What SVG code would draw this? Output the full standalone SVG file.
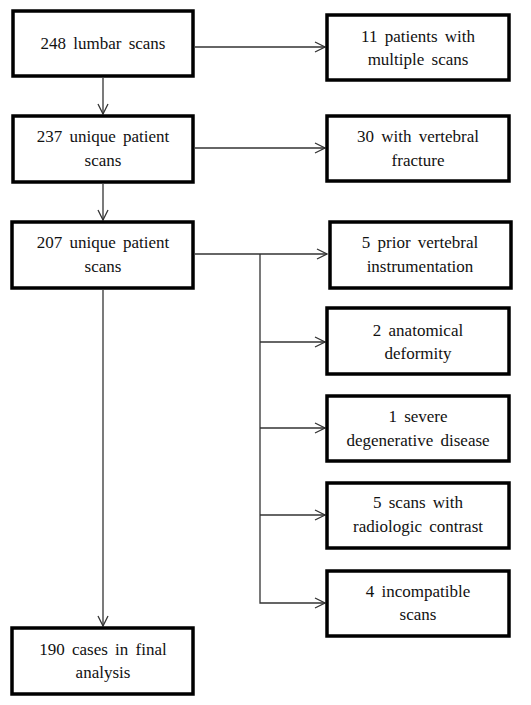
<svg xmlns="http://www.w3.org/2000/svg" width="531" height="705" viewBox="0 0 531 705">
<style>
.box{fill:#fff;stroke:#000;stroke-width:3.5}
.t{font-family:'Liberation Serif','Times New Roman',serif;font-size:17px;fill:#111;text-anchor:middle;word-spacing:3px}
.c{fill:none;stroke:#333;stroke-width:1.3}
</style>
<defs>
<marker id="ah" viewBox="0 0 12 12" refX="11" refY="6" markerWidth="12" markerHeight="12" markerUnits="userSpaceOnUse" orient="auto">
<polyline points="1,1 11,6 1,11" fill="none" stroke="#333" stroke-width="1.3"/>
</marker>
</defs>
<rect width="531" height="705" fill="#fff"/>
<g id="connectors">
<line class="c" x1="195" y1="47" x2="325" y2="47" marker-end="url(#ah)"/>
<line class="c" x1="103" y1="78" x2="103" y2="114" marker-end="url(#ah)"/>
<line class="c" x1="195" y1="148" x2="325" y2="148" marker-end="url(#ah)"/>
<line class="c" x1="103" y1="184" x2="103" y2="220" marker-end="url(#ah)"/>
<line class="c" x1="195" y1="254" x2="327" y2="254" marker-end="url(#ah)"/>
<polyline class="c" points="260,254 260,603 325,603" marker-end="url(#ah)"/>
<line class="c" x1="260" y1="342" x2="325" y2="342" marker-end="url(#ah)"/>
<line class="c" x1="260" y1="428" x2="325" y2="428" marker-end="url(#ah)"/>
<line class="c" x1="260" y1="515" x2="325" y2="515" marker-end="url(#ah)"/>
<line class="c" x1="103" y1="290" x2="103" y2="626" marker-end="url(#ah)"/>
</g>
<g id="n248"><rect class="box" x="13" y="11" width="180" height="65"/><text class="t" x="103" y="49">248 lumbar scans</text></g>
<g id="n11"><rect class="box" x="327" y="15" width="182" height="65"/><text class="t" x="418" y="42">11 patients with</text><text class="t" x="418" y="65">multiple scans</text></g>
<g id="n237"><rect class="box" x="13" y="116" width="180" height="66"/><text class="t" x="103" y="142">237 unique patient</text><text class="t" x="103" y="166">scans</text></g>
<g id="n30"><rect class="box" x="327" y="116" width="182" height="65"/><text class="t" x="418" y="142">30 with vertebral</text><text class="t" x="418" y="166">fracture</text></g>
<g id="n207"><rect class="box" x="12" y="222" width="181" height="66"/><text class="t" x="103" y="248">207 unique patient</text><text class="t" x="103" y="272">scans</text></g>
<g id="n5prior"><rect class="box" x="330" y="222" width="181" height="66"/><text class="t" x="420" y="248">5 prior vertebral</text><text class="t" x="420" y="272">instrumentation</text></g>
<g id="n2"><rect class="box" x="327" y="308" width="182" height="66"/><text class="t" x="418" y="336">2 anatomical</text><text class="t" x="418" y="359">deformity</text></g>
<g id="n1"><rect class="box" x="327" y="396" width="182" height="65"/><text class="t" x="418" y="422">1 severe</text><text class="t" x="418" y="446">degenerative disease</text></g>
<g id="n5scans"><rect class="box" x="327" y="483" width="182" height="65"/><text class="t" x="418" y="508">5 scans with</text><text class="t" x="418" y="532">radiologic contrast</text></g>
<g id="n4"><rect class="box" x="327" y="571" width="182" height="65"/><text class="t" x="418" y="597">4 incompatible</text><text class="t" x="418" y="620">scans</text></g>
<g id="n190"><rect class="box" x="12" y="628" width="181" height="66"/><text class="t" x="103" y="655">190 cases in final</text><text class="t" x="103" y="678">analysis</text></g>
</svg>
